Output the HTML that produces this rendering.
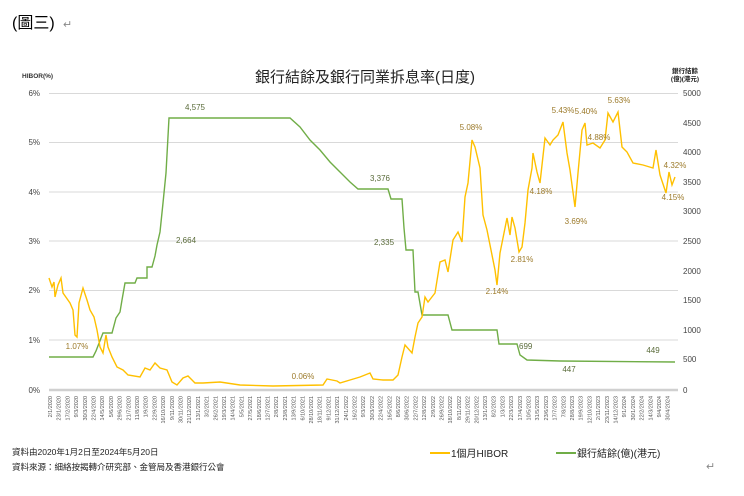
<!DOCTYPE html>
<html><head><meta charset="utf-8"><style>
body{margin:0;background:#fff;width:744px;height:491px;overflow:hidden;font-family:"Liberation Sans","Noto Sans CJK TC",sans-serif}
</style></head><body>
<svg width="744" height="491" xmlns="http://www.w3.org/2000/svg" font-family="Liberation Sans, Noto Sans CJK TC, sans-serif">
<text x="12" y="28" font-size="16" fill="#000">(圖三)</text><text x="63" y="28" font-size="11" fill="#888">↵</text>
<text x="365" y="82" font-size="15" text-anchor="middle" fill="#222">銀行結餘及銀行同業拆息率(日度)</text>
<text x="22" y="78" font-size="6.5" font-weight="bold" fill="#333">HIBOR(%)</text>
<text x="685" y="73" font-size="6.5" font-weight="bold" fill="#222" text-anchor="middle">銀行結餘</text>
<text x="685" y="81" font-size="6.5" font-weight="bold" fill="#222" text-anchor="middle">(億)(港元)</text>
<g stroke="#d9d9d9" stroke-width="1">
<line x1="49" y1="93.5" x2="678" y2="93.5"/><line x1="49" y1="142.5" x2="678" y2="142.5"/><line x1="49" y1="192" x2="678" y2="192"/><line x1="49" y1="241" x2="678" y2="241"/><line x1="49" y1="290.5" x2="678" y2="290.5"/><line x1="49" y1="340" x2="678" y2="340"/>
</g>
<line x1="49" y1="390" x2="678" y2="390" stroke="#d0d0d0" stroke-width="2.5"/>
<g font-size="8" fill="#444" text-anchor="end">
<text x="40" y="96">6%</text><text x="40" y="145">5%</text><text x="40" y="195">4%</text><text x="40" y="244">3%</text><text x="40" y="293">2%</text><text x="40" y="343">1%</text><text x="40" y="393">0%</text>
</g>
<g font-size="8" fill="#444">
<text x="683" y="96">5000</text><text x="683" y="126">4500</text><text x="683" y="155">4000</text><text x="683" y="185">3500</text><text x="683" y="214">3000</text><text x="683" y="244">2500</text><text x="683" y="274">2000</text><text x="683" y="303">1500</text><text x="683" y="333">1000</text><text x="683" y="362">500</text><text x="683" y="393">0</text>
</g>
<polyline fill="none" stroke="#70ad47" stroke-width="1.4" points="49,357 93,357 96,351 103,333 112,333 116,318 120,312 122,300 125,283 135,283 137,278 147,278 147,267 152,267 155,256 157,245 160,232 163,203 166,173 169,118 290,118 300,127 310,140 320,150 330,162 340,172 350,182 358,189 388,189 391,199 402,199 404,228 406,250 413,250 415,292 418,292 422,315 448,315 452,330 497,330 499,344 517,344 520,355 527,360 560,361 675,362"/>
<polyline fill="none" stroke="#ffc000" stroke-width="1.4" points="49,278 52,287 54,282 55,297 58,285 61,278 63,293 70,303 73,310 75,335 77,337 79,303 83,288 87,300 90,310 94,317 97,330 100,347 103,353 106,335 108,347 112,357 117,367 123,370 128,375 140,377 145,368 150,370 155,363 160,368 167,370 172,382 177,385 183,378 188,376 195,383 203,383 220,382 240,385 273,386 323,385 327,379 337,381 340,383 350,380 360,377 370,373 373,379 383,380 393,380 398,375 402,357 405,345 412,353 415,337 418,323 422,317 425,297 428,302 435,293 440,262 445,260 448,272 453,240 458,232 462,242 465,197 468,183 472,140 475,147 480,168 483,215 487,230 490,245 495,270 497,285 500,253 503,238 507,218 510,235 512,217 515,228 519,252 522,247 525,223 528,190 532,168 533,153 537,172 540,183 545,138 550,145 553,140 558,135 563,122 567,153 570,170 575,207 578,173 582,130 585,123 587,145 593,143 600,148 605,140 608,113 613,122 618,112 622,147 627,152 633,163 643,165 653,168 656,150 660,175 666,193 669,172 672,185 675,177"/>
<g font-size="8" fill="#5a6b3a">
<text x="195" y="110" text-anchor="middle">4,575</text><text x="176" y="243">2,664</text><text x="380" y="181" text-anchor="middle">3,376</text><text x="374" y="245">2,335</text>
<text x="519" y="349">699</text><text x="569" y="372" text-anchor="middle">447</text><text x="653" y="353" text-anchor="middle">449</text>
</g>
<g font-size="8" fill="#9c7a2a" text-anchor="middle">
<text x="77" y="349">1.07%</text><text x="303" y="379">0.06%</text><text x="471" y="130">5.08%</text><text x="563" y="113">5.43%</text><text x="586" y="114">5.40%</text><text x="619" y="103">5.63%</text><text x="599" y="140">4.88%</text><text x="541" y="194">4.18%</text><text x="576" y="224">3.69%</text><text x="522" y="262">2.81%</text><text x="497" y="294">2.14%</text><text x="675" y="168">4.32%</text><text x="673" y="200">4.15%</text>
</g>
<g font-size="5.5" fill="#555" text-anchor="end">
<text transform="translate(52,396) rotate(-90)">2/1/2020</text>
<text transform="translate(60.7,396) rotate(-90)">23/1/2020</text>
<text transform="translate(69.4,396) rotate(-90)">17/2/2020</text>
<text transform="translate(78.1,396) rotate(-90)">9/3/2020</text>
<text transform="translate(86.8,396) rotate(-90)">30/3/2020</text>
<text transform="translate(95.5,396) rotate(-90)">22/4/2020</text>
<text transform="translate(104.2,396) rotate(-90)">14/5/2020</text>
<text transform="translate(112.9,396) rotate(-90)">5/6/2020</text>
<text transform="translate(121.6,396) rotate(-90)">29/6/2020</text>
<text transform="translate(130.3,396) rotate(-90)">21/7/2020</text>
<text transform="translate(139,396) rotate(-90)">11/8/2020</text>
<text transform="translate(147.7,396) rotate(-90)">1/9/2020</text>
<text transform="translate(156.4,396) rotate(-90)">22/9/2020</text>
<text transform="translate(165.1,396) rotate(-90)">16/10/2020</text>
<text transform="translate(173.8,396) rotate(-90)">9/11/2020</text>
<text transform="translate(182.5,396) rotate(-90)">30/11/2020</text>
<text transform="translate(191.2,396) rotate(-90)">21/12/2020</text>
<text transform="translate(199.9,396) rotate(-90)">13/1/2021</text>
<text transform="translate(208.6,396) rotate(-90)">3/2/2021</text>
<text transform="translate(217.3,396) rotate(-90)">26/2/2021</text>
<text transform="translate(226,396) rotate(-90)">19/3/2021</text>
<text transform="translate(234.7,396) rotate(-90)">14/4/2021</text>
<text transform="translate(243.4,396) rotate(-90)">5/5/2021</text>
<text transform="translate(252.1,396) rotate(-90)">27/5/2021</text>
<text transform="translate(260.8,396) rotate(-90)">18/6/2021</text>
<text transform="translate(269.5,396) rotate(-90)">12/7/2021</text>
<text transform="translate(278.2,396) rotate(-90)">2/8/2021</text>
<text transform="translate(286.9,396) rotate(-90)">23/8/2021</text>
<text transform="translate(295.6,396) rotate(-90)">13/9/2021</text>
<text transform="translate(304.3,396) rotate(-90)">6/10/2021</text>
<text transform="translate(313,396) rotate(-90)">28/10/2021</text>
<text transform="translate(321.7,396) rotate(-90)">18/11/2021</text>
<text transform="translate(330.4,396) rotate(-90)">9/12/2021</text>
<text transform="translate(339.1,396) rotate(-90)">31/12/2021</text>
<text transform="translate(347.8,396) rotate(-90)">24/1/2022</text>
<text transform="translate(356.5,396) rotate(-90)">16/2/2022</text>
<text transform="translate(365.2,396) rotate(-90)">9/3/2022</text>
<text transform="translate(373.9,396) rotate(-90)">30/3/2022</text>
<text transform="translate(382.6,396) rotate(-90)">22/4/2022</text>
<text transform="translate(391.3,396) rotate(-90)">16/5/2022</text>
<text transform="translate(400,396) rotate(-90)">8/6/2022</text>
<text transform="translate(408.7,396) rotate(-90)">30/6/2022</text>
<text transform="translate(417.4,396) rotate(-90)">22/7/2022</text>
<text transform="translate(426.1,396) rotate(-90)">12/8/2022</text>
<text transform="translate(434.8,396) rotate(-90)">2/9/2022</text>
<text transform="translate(443.5,396) rotate(-90)">26/9/2022</text>
<text transform="translate(452.2,396) rotate(-90)">18/10/2022</text>
<text transform="translate(460.9,396) rotate(-90)">8/11/2022</text>
<text transform="translate(469.6,396) rotate(-90)">29/11/2022</text>
<text transform="translate(478.3,396) rotate(-90)">20/12/2022</text>
<text transform="translate(487,396) rotate(-90)">13/1/2023</text>
<text transform="translate(495.7,396) rotate(-90)">8/2/2023</text>
<text transform="translate(504.4,396) rotate(-90)">1/3/2023</text>
<text transform="translate(513.1,396) rotate(-90)">22/3/2023</text>
<text transform="translate(521.8,396) rotate(-90)">17/4/2023</text>
<text transform="translate(530.5,396) rotate(-90)">10/5/2023</text>
<text transform="translate(539.2,396) rotate(-90)">31/5/2023</text>
<text transform="translate(547.9,396) rotate(-90)">23/6/2023</text>
<text transform="translate(556.6,396) rotate(-90)">17/7/2023</text>
<text transform="translate(565.3,396) rotate(-90)">7/8/2023</text>
<text transform="translate(574,396) rotate(-90)">28/8/2023</text>
<text transform="translate(582.7,396) rotate(-90)">19/9/2023</text>
<text transform="translate(591.4,396) rotate(-90)">12/10/2023</text>
<text transform="translate(600.1,396) rotate(-90)">2/11/2023</text>
<text transform="translate(608.8,396) rotate(-90)">23/11/2023</text>
<text transform="translate(617.5,396) rotate(-90)">14/12/2023</text>
<text transform="translate(626.2,396) rotate(-90)">9/1/2024</text>
<text transform="translate(634.9,396) rotate(-90)">30/1/2024</text>
<text transform="translate(643.6,396) rotate(-90)">22/2/2024</text>
<text transform="translate(652.3,396) rotate(-90)">14/3/2024</text>
<text transform="translate(661,396) rotate(-90)">9/4/2024</text>
<text transform="translate(669.7,396) rotate(-90)">30/4/2024</text>
</g>
<text x="12" y="455" font-size="8.5" fill="#222">資料由2020年1月2日至2024年5月20日</text>
<text x="12" y="470" font-size="8.5" fill="#222">資料來源：細絡按揭轉介研究部、金管局及香港銀行公會</text>
<line x1="430" y1="453" x2="450" y2="453" stroke="#ffc000" stroke-width="2"/>
<text x="451" y="457" font-size="10" fill="#222">1個月HIBOR</text>
<line x1="556" y1="453" x2="576" y2="453" stroke="#70ad47" stroke-width="2"/>
<text x="577" y="457" font-size="10" fill="#222">銀行結餘(億)(港元)</text>
<text x="706" y="470" font-size="11" fill="#888">↵</text>
</svg>
</body></html>
